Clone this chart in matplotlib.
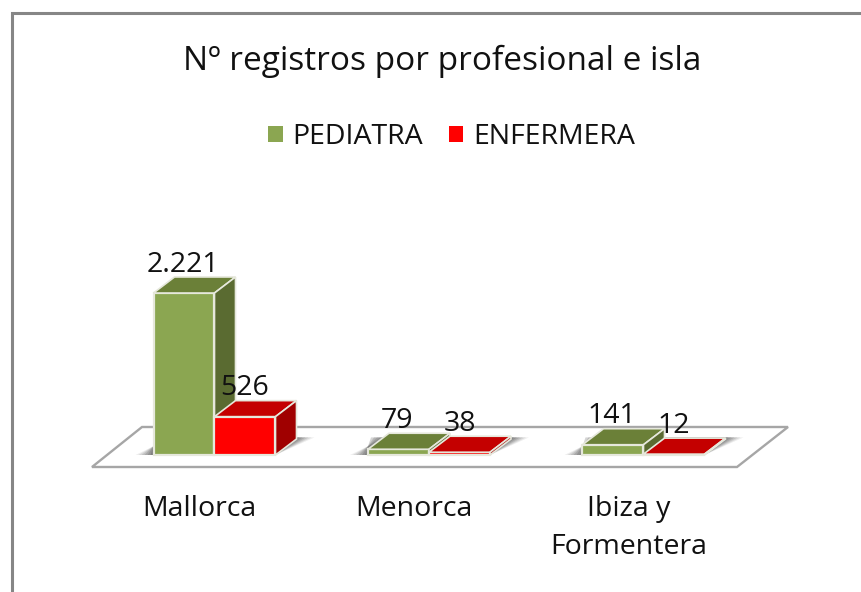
"""N registros por profesional e isla: oblique 3D bars drawn on a flat axes."""

import matplotlib

matplotlib.use("Agg")
import matplotlib.pyplot as plt
from matplotlib.patches import Patch, Polygon

categories = ["Mallorca", "Menorca", "Ibiza y\nFormentera"]
pediatra = [2221, 79, 141]
enfermera = [526, 38, 12]
pediatra_labels = ["2.221", "79", "141"]
enfermera_labels = ["526", "38", "12"]
series_names = ["PEDIATRA", "ENFERMERA"]
title = "Nº registros por profesional e isla"

W, H = 861, 592
X0, X_STEP = 214.5, 214.5  # px of first group centre, px between groups
Y0, Y_SCALE = 455.0, 162.0 / 2221  # px of value 0, px per unit
BAR_W = 61 / X_STEP
DEPTH_X = 21 / X_STEP
DEPTH_Y = 16 / Y_SCALE
LABEL_PAD = 5.5 / Y_SCALE

plt.rcParams["font.family"] = ["Open Sans", "DejaVu Sans"]
fig = plt.figure(figsize=(W / 100, H / 100), dpi=100)
ax = fig.add_axes([0, 0, 1, 1])
ax.set_xlim(-X0 / X_STEP, (W - X0) / X_STEP)
ax.set_ylim((Y0 - H) / Y_SCALE, Y0 / Y_SCALE)
ax.axis("off")


def px(x, y):
    """Layout position in image pixels to figure fraction."""
    return x / W, 1 - y / H


def to_data(x, y):
    return (x - X0) / X_STEP, (Y0 - y) / Y_SCALE


def draw_bar(left, value, front, top, side):
    right = left + BAR_W
    ax.add_patch(Polygon([(left, 0), (right, 0), (right, value), (left, value)],
                         fc=front, ec="#e6e8dc", lw=1.6, zorder=4))
    ax.add_patch(Polygon([(left, value), (right, value),
                          (right + DEPTH_X, value + DEPTH_Y), (left + DEPTH_X, value + DEPTH_Y)],
                         fc=top, ec="#e6e8dc", lw=1.2, zorder=4))
    ax.add_patch(Polygon([(right, 0), (right + DEPTH_X, DEPTH_Y),
                          (right + DEPTH_X, value + DEPTH_Y), (right, value)],
                         fc=side, ec="#e6e8dc", lw=1.2, zorder=4))


def draw_shadow(left, right):
    # soft shadow on the floor, fading out towards the left and the back right
    for grow, alpha in zip([18, 15, 12, 9, 6, 3], [0.09, 0.12, 0.15, 0.18, 0.2, 0.22]):
        g = grow / X_STEP
        ax.add_patch(Polygon([(left - g, 0), (right, 0),
                              (right + DEPTH_X + g, DEPTH_Y * 1.1), (left + g, DEPTH_Y * 1.1)],
                             fc="#404040", ec="none", alpha=alpha, zorder=3))


# floor
ax.add_patch(Polygon([to_data(92, 467), to_data(737, 467), to_data(788, 427), to_data(142, 427)],
                     fc="white", ec="#a6a6a6", lw=1.7, zorder=2))

for i in range(len(categories)):
    draw_shadow(i - BAR_W, i + BAR_W)
    draw_bar(i - BAR_W, pediatra[i], "#8ba651", "#6b8038", "#5a6b31")
    draw_bar(i, enfermera[i], "#ff0000", "#c40000", "#a00000")
    ax.text(i - BAR_W / 2 - 0.005, pediatra[i] + DEPTH_Y + LABEL_PAD, pediatra_labels[i],
            ha="center", va="baseline", fontsize=20.5, color="#111111", zorder=6)
    ax.text(i + BAR_W / 2, enfermera[i] + DEPTH_Y + LABEL_PAD, enfermera_labels[i],
            ha="center", va="baseline", fontsize=20.5, color="#111111", zorder=6)
    ax.text(i - 15 / X_STEP, (Y0 - 495) / Y_SCALE, categories[i], ha="center", va="top",
            fontsize=20.5, color="#111111", linespacing=1.5)

# chart border: only the top and left edges are in frame
fig.add_artist(plt.Line2D([12 / W, 12 / W, 1], [0, 1 - 13 / H, 1 - 13 / H],
                          color="#868686", lw=2.2, solid_joinstyle="miter"))

fig.text(*px(442, 61), title, ha="center", va="center", fontsize=24, color="#111111")

handles = [Patch(fc="#8ba651", label=series_names[0]), Patch(fc="#ff0000", label=series_names[1])]
fig.legend(handles=handles, loc="center", bbox_to_anchor=px(451.5, 137), ncol=2, frameon=False,
           fontsize=20.5, labelcolor="#111111", handlelength=0.52, handleheight=0.52,
           handletextpad=0.33, columnspacing=0.9)

fig.savefig("out.png", dpi=100)
plt.close(fig)
